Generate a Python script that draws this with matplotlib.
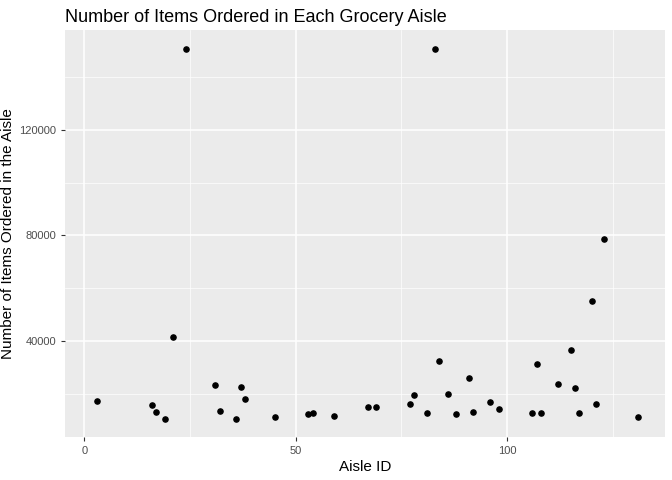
import matplotlib.pyplot as plt

plt.rcParams['font.family'] = ['Liberation Sans', 'DejaVu Sans']

aisle_id = [3, 16, 17, 19, 24, 21, 31, 32, 36, 37, 38, 45, 53, 54, 59, 67, 69, 77, 78, 81,
            83, 84, 86, 88, 91, 92, 96, 98, 106, 107, 108, 112, 115, 116, 117, 120, 121, 123, 131]
n_items = [17250, 15700, 13100, 10400, 150700, 41500, 23300, 13500, 10400, 22600, 18000,
           11200, 12300, 12700, 11600, 15000, 15000, 16100, 19500, 12700, 150700, 32400,
           19900, 12300, 26000, 13100, 16900, 14200, 12700, 31300, 12700, 23700, 36600,
           22200, 12700, 55200, 16100, 78700, 11200]

fig = plt.figure(figsize=(6.72, 4.8), dpi=100)
ax = fig.add_axes([0.097, 0.09, 0.893, 0.8475])
ax.set_facecolor("#EBEBEB")
ax.scatter(aisle_id, n_items, s=14, c="black", zorder=3)

ax.set_xlim(-4.5, 137.4)
ax.set_ylim(3600, 157900)
ax.set_xticks([0, 50, 100])
ax.set_yticks([40000, 80000, 120000])
ax.set_xticks([25, 75, 125], minor=True)
ax.set_yticks([20000, 60000, 100000, 140000], minor=True)
ax.grid(True, which="major", color="white", linewidth=1.1)
ax.grid(True, which="minor", color="white", linewidth=0.5)
ax.set_axisbelow(True)
for s in ax.spines.values():
    s.set_visible(False)
ax.tick_params(which="major", length=3, color="#333333", labelsize=8, labelcolor="#4D4D4D")
ax.tick_params(which="minor", length=0)

ax.set_xlabel("Aisle ID", fontsize=11, labelpad=3)
ax.set_ylabel("Number of Items Ordered in the Aisle", fontsize=11, labelpad=3)
ax.set_title("Number of Items Ordered in Each Grocery Aisle", fontsize=13, loc="left")

fig.savefig("out.png")
